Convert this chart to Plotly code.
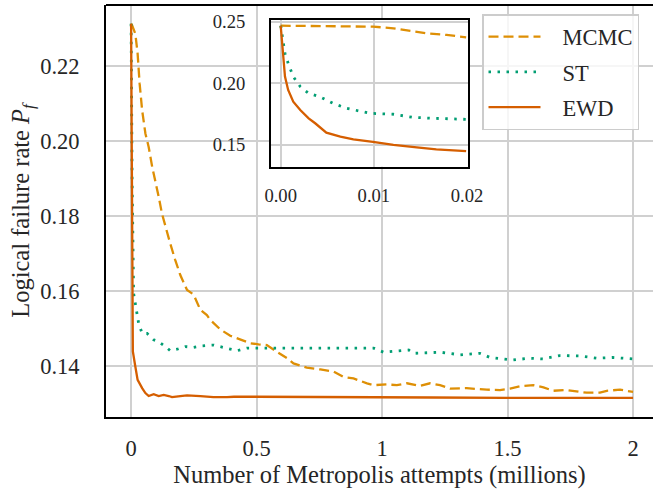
import plotly.graph_objects as go

# ---------------- main panel data (x in millions of attempts) ----------------
ewd_x = [0, 0.003, 0.007, 0.017, 0.026, 0.044, 0.057, 0.07, 0.09, 0.11, 0.13, 0.15, 0.163,
         0.196, 0.223, 0.276, 0.328, 0.382, 0.41, 0.5, 0.7, 0.9, 1.0, 1.2, 1.5, 1.8, 2.0]
ewd_y = [0.2313, 0.19, 0.1438, 0.1397, 0.1362, 0.1340, 0.1327, 0.1319, 0.1324, 0.1319, 0.1322,
         0.1319, 0.1316, 0.1319, 0.1321, 0.1319, 0.1316, 0.1316, 0.1317, 0.1317, 0.1316, 0.1316,
         0.1316, 0.1315, 0.1314, 0.1314, 0.1314]

st_x = [0, 0.004, 0.01, 0.0145, 0.021, 0.03, 0.044, 0.064, 0.09, 0.11, 0.137, 0.156, 0.183,
        0.216, 0.249, 0.283, 0.329, 0.369, 0.422, 0.462, 0.508, 0.607, 0.74, 0.873, 0.966,
        1.006, 1.072, 1.106, 1.126, 1.232, 1.312, 1.39, 1.43, 1.52, 1.588, 1.641, 1.708,
        1.788, 1.854, 1.92, 2.0]
st_y = [0.2313, 0.19, 0.1593, 0.1575, 0.1540, 0.1513, 0.1486, 0.1486, 0.1469, 0.1464, 0.1451,
        0.1440, 0.1444, 0.1451, 0.1449, 0.1453, 0.1455, 0.1449, 0.1440, 0.1447, 0.1447, 0.1447,
        0.1445, 0.1445, 0.1447, 0.1436, 0.1440, 0.1442, 0.1433, 0.1436, 0.1429, 0.1433, 0.1422,
        0.1415, 0.1420, 0.1418, 0.1427, 0.1426, 0.1420, 0.1422, 0.1418]

mcmc_x = [0, 0.004, 0.017, 0.026, 0.034, 0.044, 0.057, 0.07, 0.084, 0.097, 0.11, 0.123, 0.137,
          0.156, 0.176, 0.196, 0.223, 0.249, 0.276, 0.302, 0.316, 0.355, 0.395, 0.435, 0.475,
          0.508, 0.541, 0.581, 0.621, 0.647, 0.7, 0.754, 0.807, 0.846, 0.886, 0.94, 0.966,
          1.019, 1.059, 1.099, 1.152, 1.191, 1.231, 1.271, 1.337, 1.417, 1.47, 1.51, 1.55,
          1.603, 1.643, 1.682, 1.736, 1.789, 1.815, 1.868, 1.895, 1.948, 2.0]
mcmc_y = [0.2313, 0.2309, 0.2286, 0.2233, 0.2153, 0.2082, 0.2020, 0.1984, 0.1931, 0.1895,
          0.1851, 0.1806, 0.1771, 0.1726, 0.1682, 0.1642, 0.1602, 0.1590, 0.1549, 0.1535,
          0.1522, 0.1497, 0.1480, 0.1469, 0.1460, 0.1457, 0.1455, 0.1437, 0.1420, 0.1406,
          0.1395, 0.1390, 0.1384, 0.1370, 0.1366, 0.1353, 0.1348, 0.1350, 0.1348, 0.1353,
          0.1346, 0.1353, 0.1348, 0.1339, 0.1340, 0.1336, 0.1335, 0.1339, 0.1345, 0.1348,
          0.1342, 0.1333, 0.1335, 0.1330, 0.1328, 0.1328, 0.1333, 0.1336, 0.1330]

# ---------------- inset data ----------------
in_mcmc_x = [0, 0.0049, 0.0099, 0.0121, 0.0142, 0.0156, 0.0178, 0.0199]
in_mcmc_y = [0.2467, 0.2465, 0.2459, 0.2446, 0.2424, 0.2405, 0.2392, 0.2373]
in_st_x = [0, 0.0002, 0.00046, 0.0008, 0.00135, 0.0021, 0.003, 0.0042, 0.0056, 0.0071,
           0.0096, 0.0121, 0.0142, 0.0164, 0.0199]
in_st_y = [0.2467, 0.2351, 0.2243, 0.2162, 0.2054, 0.1973, 0.1919, 0.1891, 0.1838, 0.1797,
           0.1757, 0.1749, 0.1724, 0.1716, 0.1708]
in_ewd_x = [0, 0.00014, 0.00028, 0.00046, 0.0008, 0.00135, 0.0021, 0.003, 0.0037, 0.0049,
            0.0064, 0.0078, 0.0099, 0.0121, 0.0146, 0.0167, 0.0199]
in_ewd_y = [0.2467, 0.2324, 0.2189, 0.2054, 0.1946, 0.1851, 0.1784, 0.1716, 0.1676, 0.1600,
            0.1567, 0.1546, 0.1526, 0.1500, 0.1481, 0.1465, 0.1451]

main_xticks = [0, 0.5, 1, 1.5, 2]
main_xlabels = ["0", "0.5", "1", "1.5", "2"]
main_yticks = [0.14, 0.16, 0.18, 0.20, 0.22]
main_ylabels = ["0.14", "0.16", "0.18", "0.20", "0.22"]
in_xticks = [0, 0.01, 0.02]
in_xlabels = ["0.00", "0.01", "0.02"]
in_yticks = [0.15, 0.20, 0.25]
in_ylabels = ["0.15", "0.20", "0.25"]
series_names = ["MCMC", "ST", "EWD"]

C_MCMC = "#DE8F05"
C_ST = "#029E73"
C_EWD = "#D55E00"
FONT = "Liberation Serif"
TXT = "#262626"
GRID = "#d0d0d0"
LW = 2.3
PAD = "\u2002\u2005"

fig = go.Figure()
fig.add_trace(go.Scatter(x=mcmc_x, y=mcmc_y, mode="lines", name=PAD + series_names[0],
                         legendgroup="a",
                         line=dict(color=C_MCMC, width=LW, dash="10px,5px")))
fig.add_trace(go.Scatter(x=st_x, y=st_y, mode="lines", name=PAD + series_names[1],
                         legendgroup="b",
                         line=dict(color=C_ST, width=LW + 0.5, dash="2.5px,6.5px")))
fig.add_trace(go.Scatter(x=ewd_x, y=ewd_y, mode="lines", name=PAD + series_names[2],
                         legendgroup="c",
                         line=dict(color=C_EWD, width=LW)))

fig.add_trace(go.Scatter(x=in_mcmc_x, y=in_mcmc_y, mode="lines", showlegend=False,
                         xaxis="x2", yaxis="y2",
                         line=dict(color=C_MCMC, width=LW, dash="10px,5px")))
fig.add_trace(go.Scatter(x=in_st_x, y=in_st_y, mode="lines", showlegend=False,
                         xaxis="x2", yaxis="y2",
                         line=dict(color=C_ST, width=LW + 0.5, dash="2.5px,6.5px")))
fig.add_trace(go.Scatter(x=in_ewd_x, y=in_ewd_y, mode="lines", showlegend=False,
                         xaxis="x2", yaxis="y2",
                         line=dict(color=C_EWD, width=LW)))

W, H = 653, 491
L, R, T, B = 106, 0, 5, 74
pw, ph = W - L - R, H - T - B

def px_x(p):
    return (p - L) / pw

def px_y(p):
    return (H - B - p) / ph

in_x0, in_x1 = px_x(271), px_x(468)
in_y0, in_y1 = px_y(166.7), px_y(20)

# white background of the inset (drawn in the inset subplot's lower layer)
fig.add_shape(type="rect", xref="x2 domain", yref="y2 domain", x0=0, x1=1, y0=0, y1=1,
              fillcolor="white", line=dict(width=0), layer="below")
# top frame line of the main panel
fig.add_shape(type="line", xref="paper", yref="paper", x0=0, x1=1.0, y0=1, y1=1,
              line=dict(color="black", width=2))

TICKF = dict(family=FONT, size=22.5, color=TXT)
INF = dict(family=FONT, size=18.6, color=TXT)
TITF = dict(family=FONT, size=24.5, color=TXT)

fig.update_layout(
    width=W, height=H,
    margin=dict(l=L, r=R, t=T, b=B, pad=0, autoexpand=False),
    paper_bgcolor="white", plot_bgcolor="white",
    font=dict(family=FONT, size=22.5, color=TXT),
    xaxis=dict(range=[-0.1, 2.0795], tickvals=main_xticks, ticktext=main_xlabels,
               showgrid=True, gridcolor=GRID, gridwidth=1.6, zeroline=False,
               showline=True, linecolor="black", linewidth=2, ticks="", automargin=False,
               ticklabelstandoff=10, tickfont=TICKF,
               title=dict(text="Number of Metropolis attempts (millions)", standoff=4,
                          font=TITF)),
    yaxis=dict(range=[0.1263, 0.2363], tickvals=main_yticks, ticktext=main_ylabels,
               showgrid=True, gridcolor=GRID, gridwidth=1.6, zeroline=False,
               showline=True, linecolor="black", linewidth=2, ticks="", automargin=False,
               ticklabelstandoff=20, tickfont=TICKF,
               title=dict(text="Logical failure rate <i>P</i><sub><i>f</i></sub>", standoff=4,
                          font=TITF)),
    xaxis2=dict(domain=[in_x0, in_x1], anchor="y2", range=[-0.00104, 0.0201],
                tickvals=in_xticks, ticktext=in_xlabels, showgrid=True, gridcolor=GRID,
                gridwidth=1.6, zeroline=False, showline=True, mirror=True, linecolor="black",
                linewidth=2, ticks="", ticklabelstandoff=11, tickfont=INF, automargin=False),
    yaxis2=dict(domain=[in_y0, in_y1], anchor="x2", range=[0.1324, 0.2513],
                tickvals=in_yticks, ticktext=in_ylabels, showgrid=True, gridcolor=GRID,
                gridwidth=1.6, zeroline=False, showline=True, mirror=True, linecolor="black",
                linewidth=2, ticks="", ticklabelstandoff=20, tickfont=INF, automargin=False),
    legend=dict(x=px_x(482), y=px_y(14), xanchor="left", yanchor="top",
                bgcolor="rgba(255,255,255,0.8)", bordercolor="#cccccc", borderwidth=1.5,
                font=dict(family=FONT, size=22.5, color=TXT), tracegroupgap=3,
                itemwidth=52),
    showlegend=True,
)

fig.write_html("out.html")
